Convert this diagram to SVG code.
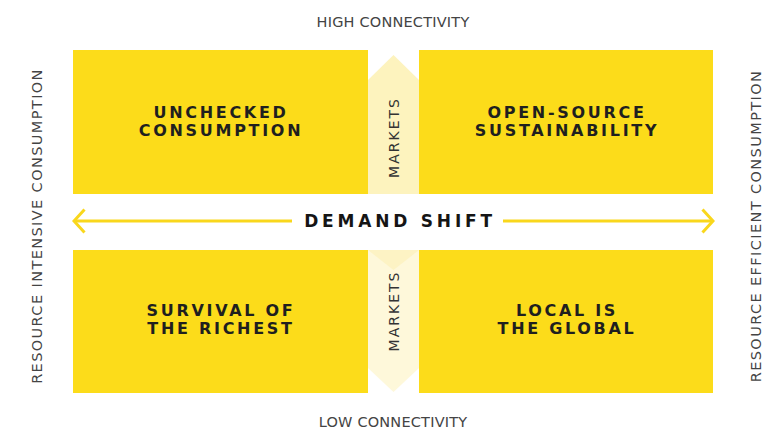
<svg xmlns="http://www.w3.org/2000/svg" width="764" height="429" viewBox="0 0 764 429">
  <style>
    .quad { fill: #FCDC1A; }
    .qlabel { font-family: "DejaVu Sans", "Liberation Sans", sans-serif; font-weight: bold; font-size: 16px; letter-spacing: 2.7px; fill: #1f1f1f; text-anchor: middle; }
    .axis { font-family: "DejaVu Sans", "Liberation Sans", sans-serif; font-size: 14.5px; fill: #444; text-anchor: middle; }
    .mkt { font-family: "DejaVu Sans", "Liberation Sans", sans-serif; font-size: 14px; letter-spacing: 2px; fill: #333; text-anchor: middle; }
    .shift { font-family: "DejaVu Sans", "Liberation Sans", sans-serif; font-weight: bold; font-size: 17px; letter-spacing: 3.8px; fill: #151515; text-anchor: middle; }
    .arrow { stroke: #F9D71C; stroke-width: 3; fill: none; }
  </style>
  <defs>
    <marker id="chev" viewBox="0 0 14 26" refX="12" refY="13" markerWidth="14" markerHeight="26" markerUnits="userSpaceOnUse" orient="auto">
      <path d="M1.5,1.5 L12,13 L1.5,24.5" fill="none" stroke="#F9D71C" stroke-width="3"/>
    </marker>
  </defs>
  <rect width="764" height="429" fill="#ffffff"/>

  <g id="quad-unchecked">
    <rect class="quad" x="73" y="50" width="295" height="144"/>
    <text class="qlabel" x="221" y="118">UNCHECKED</text>
    <text class="qlabel" x="221" y="136">CONSUMPTION</text>
  </g>
  <g id="quad-opensource">
    <rect class="quad" x="419" y="50" width="294" height="144"/>
    <text class="qlabel" x="567" y="118">OPEN-SOURCE</text>
    <text class="qlabel" x="567" y="136">SUSTAINABILITY</text>
  </g>
  <g id="quad-survival">
    <rect class="quad" x="73" y="250" width="295" height="143"/>
    <text class="qlabel" x="221" y="316">SURVIVAL OF</text>
    <text class="qlabel" x="221" y="334">THE RICHEST</text>
  </g>
  <g id="quad-local">
    <rect class="quad" x="419" y="250" width="294" height="143"/>
    <text class="qlabel" x="567" y="316">LOCAL IS</text>
    <text class="qlabel" x="567" y="334">THE GLOBAL</text>
  </g>

  <g id="markets-top">
    <polygon points="368,80 393.5,55 419,80 419,194 368,194" fill="#FDF3BE"/>
    <text class="mkt" x="393.5" y="137.5" transform="rotate(-90 393.5 137.5)" dy="5">MARKETS</text>
  </g>
  <g id="markets-bottom">
    <polygon points="368,250 419,250 419,368 393.5,392 368,368" fill="#FEF8DA"/>
    <polygon points="368,250 419,250 393.5,270" fill="#FDF3C4"/>
    <text class="mkt" x="393.5" y="311" transform="rotate(-90 393.5 311)" dy="5">MARKETS</text>
  </g>

  <g id="axis-labels">
    <text class="axis" x="393" y="27" letter-spacing="0.2">HIGH CONNECTIVITY</text>
    <text class="axis" x="393" y="427" letter-spacing="0.2">LOW CONNECTIVITY</text>
    <text class="axis" x="42" y="226" letter-spacing="1.4" transform="rotate(-90 42 226)">RESOURCE INTENSIVE CONSUMPTION</text>
    <text class="axis" x="761" y="226" letter-spacing="1.4" transform="rotate(-90 761 226)">RESOURCE EFFICIENT CONSUMPTION</text>
  </g>

  <g id="connectors">
    <line class="arrow" x1="292" y1="221" x2="74" y2="221" marker-end="url(#chev)"/>
    <line class="arrow" x1="503" y1="221" x2="713" y2="221" marker-end="url(#chev)"/>
  </g>
  <g id="demand-shift">
    <text class="shift" x="400" y="227">DEMAND SHIFT</text>
  </g>
</svg>
